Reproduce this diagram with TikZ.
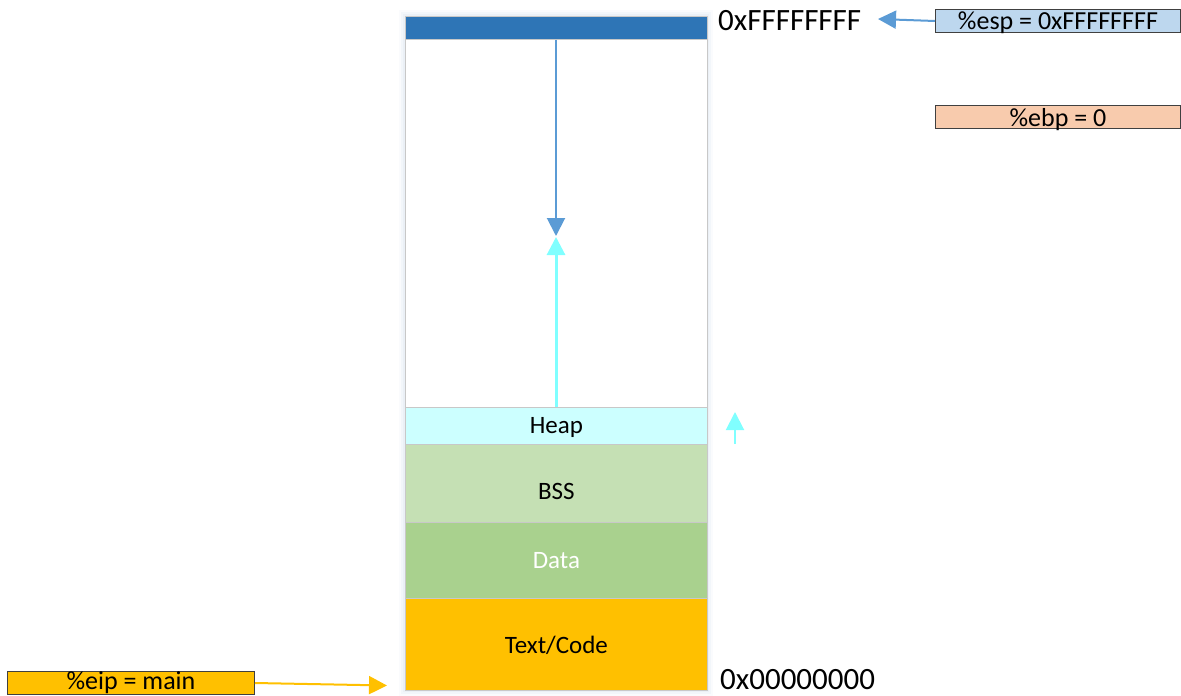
\documentclass[tikz,border=0pt]{standalone}
\usepackage{fontspec}
\setmainfont{Carlito}
\usetikzlibrary{arrows.meta}

\definecolor{stackblue}{HTML}{2E75B6}
\definecolor{ptrblue}{HTML}{5B9BD5}
\definecolor{heapfill}{HTML}{CCFFFF}
\definecolor{heapline}{HTML}{80FFFF}
\definecolor{bssfill}{HTML}{C5E0B4}
\definecolor{datafill}{HTML}{A9D18E}
\definecolor{codefill}{HTML}{FFC000}
\definecolor{espfill}{HTML}{BDD7EE}
\definecolor{ebpfill}{HTML}{F8CBAD}
\definecolor{segline}{HTML}{C8C8C8}
\definecolor{regline}{HTML}{404040}
\definecolor{glow}{HTML}{DCE6F0}

\newcommand\seglabel{\fontsize{25}{30}\selectfont}
\newcommand\reglabel{\fontsize{26}{30}\selectfont}
\newcommand\addrlabel{\fontsize{31}{36}\selectfont}

\tikzset{
  seg/.style={draw=segline, line width=0.8pt, minimum width=302pt,
    inner sep=0pt, text depth=0pt, anchor=north west, font=\seglabel},
  reg/.style={draw=regline, line width=1pt, minimum width=245pt,
    minimum height=23pt, inner sep=0pt, text depth=0pt, anchor=north west,
    font=\reglabel},
  addr/.style={anchor=west, inner sep=0pt, font=\addrlabel},
  tipped/.style={-{Triangle[length=18pt,width=18pt]}},
}

\begin{document}
\begin{tikzpicture}[x=1pt,y=-1pt]
  \useasboundingbox (0,0) rectangle (1181,696);

  % soft glow behind the memory column
  \foreach \g/\o in {6/0.15,4/0.25,2/0.35}
    \fill[glow,opacity=\o] (405-\g,16-\g) rectangle (707+\g,690+\g);

  % memory segments, top (high addresses) to bottom
  \node[seg, fill=stackblue, minimum height=23pt] (stacktop) at (405,16) {};
  \node[seg, fill=white, minimum height=368pt] (free) at (405,39) {};
  \node[seg, fill=heapfill, minimum height=37pt] (heap) at (405,407) {Heap};
  \node[seg, fill=bssfill, minimum height=78pt] (bss) at (405,444) {};
  \node[font=\seglabel, inner sep=0pt] (bsslabel) at ([yshift=-8pt]bss.center) {BSS};
  \node[seg, fill=datafill, minimum height=76pt, text=white] (data) at (405,522) {Data};
  \node[seg, fill=codefill, minimum height=92pt] (code) at (405,598) {Text/Code};

  % address bounds
  \node[addr] (hiaddr) at (718,21) {0xFFFFFFFF};
  \node[addr] (loaddr) at (720,680) {0x00000000};

  % registers
  \node[reg, fill=espfill] (esp) at (935,9) {\%esp = 0xFFFFFFFF};
  \node[reg, fill=ebpfill] (ebp) at (935,105) {\%ebp = 0};
  \node[reg, fill=codefill, minimum width=247pt, text depth=] (eip) at (7,671) {\%eip = main};

  % stack grows down, heap grows up
  \coordinate (stackend) at (556,236);
  \coordinate (heapend) at (556,237);
  \draw[tipped, ptrblue, line width=2pt] (stacktop.south -| stackend) -- (stackend);
  \draw[tipped, heapline, line width=3pt] (heap.north -| heapend) -- (heapend);

  \coordinate (growbase) at (735,444);
  \coordinate (growtip) at (735,412);
  \draw[tipped, heapline, line width=2pt] (growbase) -- (growtip);

  % register pointers
  \coordinate (esptarget) at (878,19);
  \draw[tipped, ptrblue, line width=2pt] (esp.west) -- (esptarget);
  \coordinate (eiptarget) at (387,685.5);
  \draw[tipped, codefill, line width=2pt] (eip.east) -- (eiptarget);
\end{tikzpicture}
\end{document}
